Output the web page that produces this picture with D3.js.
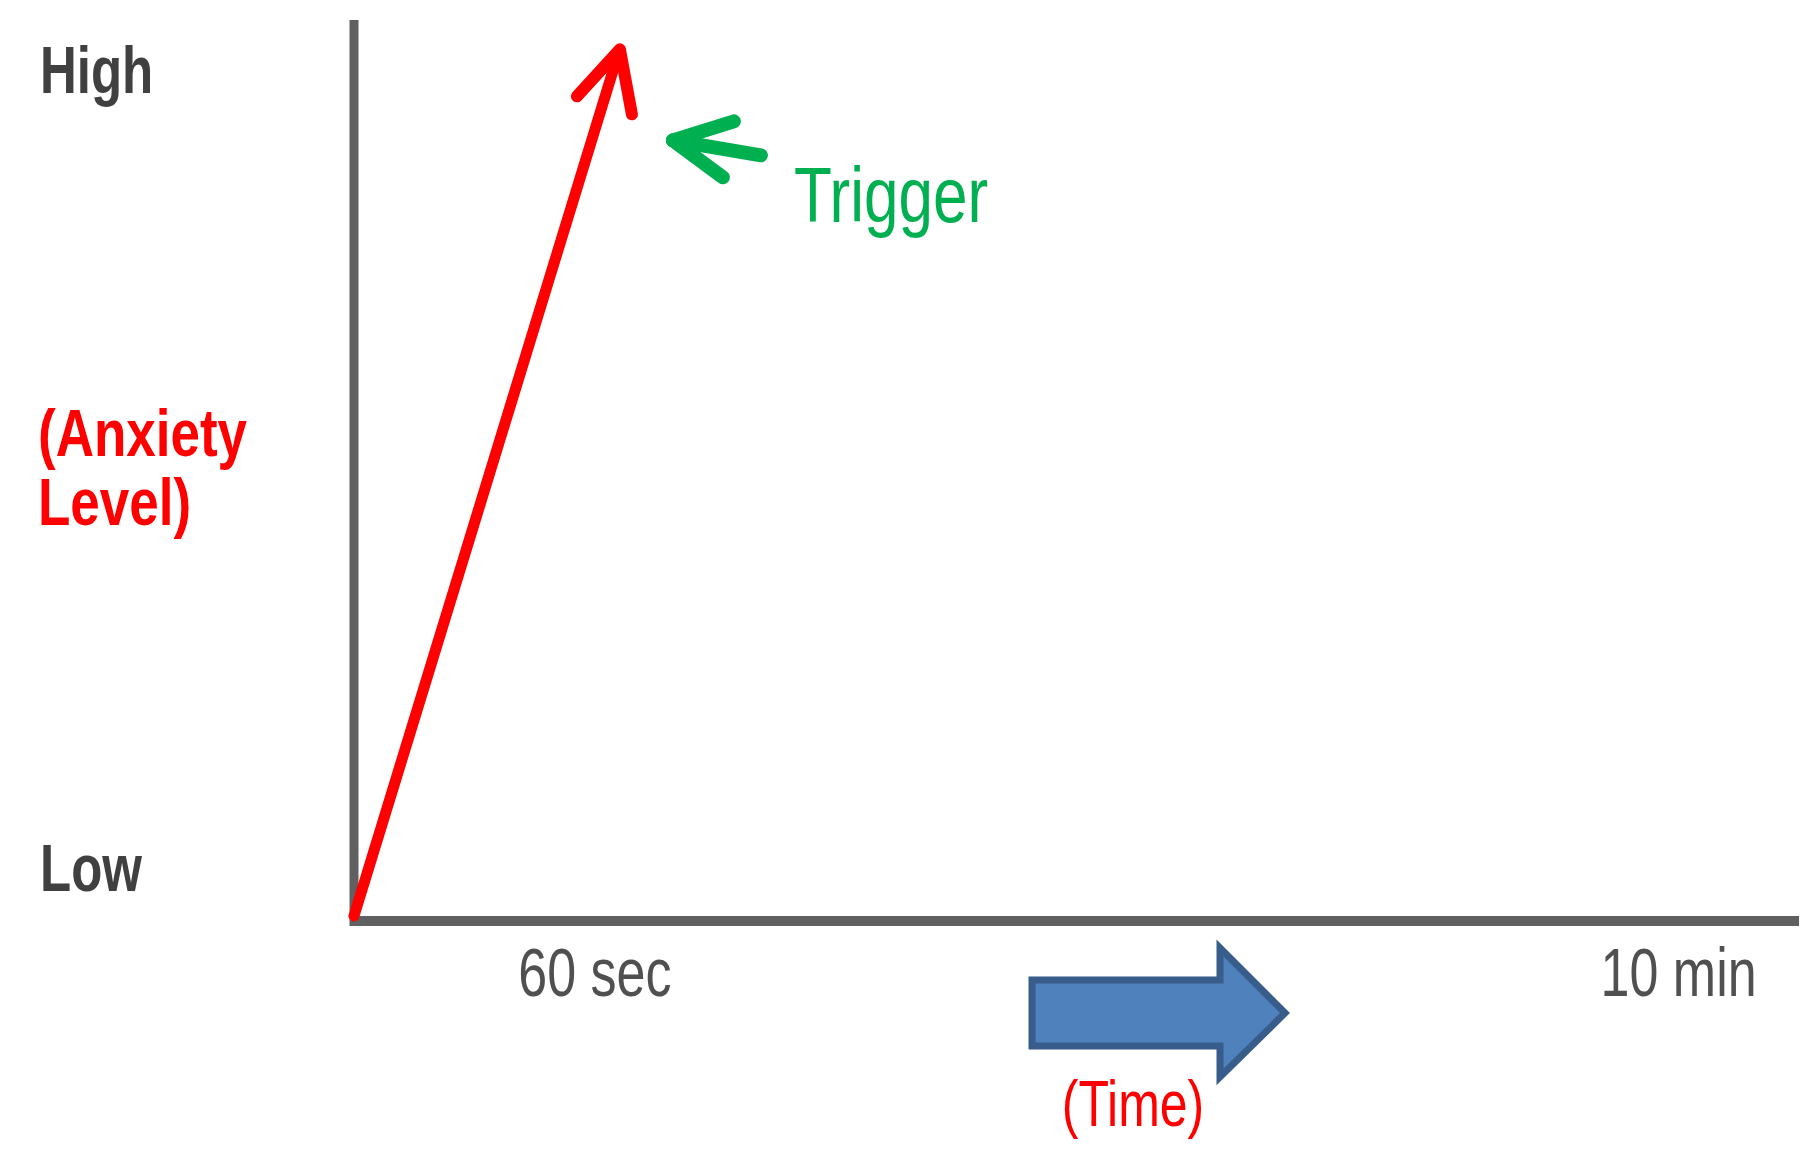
<!DOCTYPE html>
<html>
<head>
<meta charset="utf-8">
<script src="https://cdn.jsdelivr.net/npm/d3@7"></script>
<style>
  html, body { margin: 0; padding: 0; background: #fff; }
  svg { display: block; }
</style>
</head>
<body>
<svg id="chart" width="1818" height="1154"></svg>
<script>
// ---- data ----
const anxietyTime  = [0, 2.2];          // arbitrary time units along the axis
const anxietyLevel = [0, 0.965];        // 0 = Low, 1 = High
const xTickLabels  = ["60 sec", "10 min"];
const xTickValues  = [2.0, 11.0];
const yTickLabels  = ["Low", "High"];
const yTickValues  = [0.055, 0.945];
const yTitleLines  = ["(Anxiety", "Level)"];
const xTitle       = "(Time)";
const triggerLabel = "Trigger";

// ---- layout ----
const originX = 354, originY = 921;
const x = d3.scaleLinear().domain([0, 12]).range([originX, 1799]);
const y = d3.scaleLinear().domain([0, 1]).range([originY - 5, 20]);
const svg = d3.select("#chart");
const stretch = 1.25;
const axisColor = "#606060", textDark = "#404040", red = "#ff0000", green = "#00b050";

function stext(px, py, str, opts) {
  const g = svg.append("g").attr("transform", `translate(${px},${py}) scale(1,${opts.stretch || stretch})`);
  g.append("text")
    .attr("x", 0).attr("y", 0)
    .attr("font-family", "'Liberation Sans', Arial, sans-serif")
    .attr("font-size", opts.size)
    .attr("font-weight", opts.bold ? "bold" : "normal")
    .attr("fill", opts.color)
    .attr("text-anchor", opts.anchor || "start")
    .text(str);
  return g;
}

// axes
svg.append("line")
  .attr("x1", originX).attr("x2", originX)
  .attr("y1", y(1)).attr("y2", originY + 5)
  .attr("stroke", axisColor).attr("stroke-width", 9);
svg.append("line")
  .attr("x1", originX + 2).attr("x2", x(12))
  .attr("y1", originY).attr("y2", originY)
  .attr("stroke", axisColor).attr("stroke-width", 10);

// y tick labels
yTickLabels.forEach((lab, i) => {
  const cy = y(yTickValues[i]);
  stext(40, cy + 24, lab, {size: 51, bold: true, color: textDark, stretch: 1.3});
});
// y title
yTitleLines.forEach((ln, i) => {
  stext(38, 456 + i * 69, ln, {size: 53, bold: true, color: red});
});

// x tick labels
xTickLabels.forEach((lab, i) => {
  stext(x(xTickValues[i]), 996, lab, {size: 52, color: "#505050", anchor: "middle", stretch: 1.3});
});

// red anxiety line with hand-drawn arrow head
const pts = anxietyTime.map((t, i) => [x(t), y(anxietyLevel[i])]);
svg.append("path")
  .attr("d", d3.line()(pts))
  .attr("fill", "none").attr("stroke", red).attr("stroke-width", 11)
  .attr("stroke-linecap", "round");
const tip = pts[pts.length - 1];
svg.append("path")
  .attr("d", d3.line()([[tip[0] - 42, tip[1] + 45], [tip[0] + 1, tip[1] - 2], [tip[0] + 13, tip[1] + 63]]))
  .attr("fill", "none").attr("stroke", red).attr("stroke-width", 12)
  .attr("stroke-linecap", "round").attr("stroke-linejoin", "round");

// green trigger arrow
const gTip = [tip[0] + 54, tip[1] + 89];
svg.append("path")
  .attr("d", d3.line()([[gTip[0] + 88, gTip[1] + 15], gTip]))
  .attr("fill", "none").attr("stroke", green).attr("stroke-width", 14).attr("stroke-linecap", "round");
svg.append("path")
  .attr("d", d3.line()([[gTip[0] + 61, gTip[1] - 19], gTip, [gTip[0] + 50, gTip[1] + 37]]))
  .attr("fill", "none").attr("stroke", green).attr("stroke-width", 14)
  .attr("stroke-linecap", "round").attr("stroke-linejoin", "round");
stext(794, 222, triggerLabel, {size: 62, color: green});

// blue time arrow
const ax0 = 1032, ay = 1013;
const arrowPts = [
  [ax0, ay - 33], [1220, ay - 33], [1220, ay - 65], [1285, ay],
  [1220, ay + 64], [1220, ay + 33], [ax0, ay + 33]
];
svg.append("path")
  .attr("d", d3.line()(arrowPts) + "Z")
  .attr("fill", "#4f81bd").attr("stroke", "#385d8a").attr("stroke-width", 7)
  .attr("stroke-linejoin", "miter");

// x title
stext(1133, 1126, xTitle, {size: 50, color: red, anchor: "middle", stretch: 1.3});
</script>
</body>
</html>
